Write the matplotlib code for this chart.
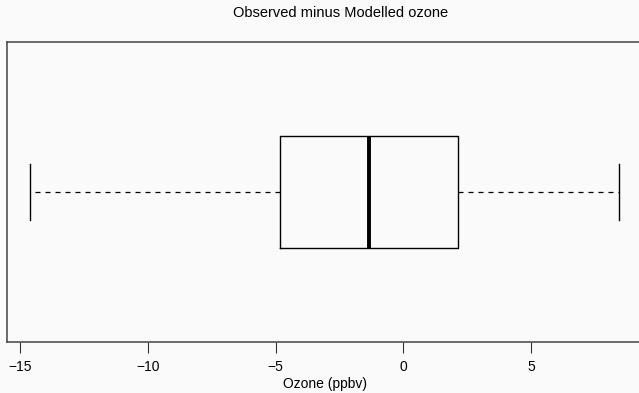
import matplotlib
matplotlib.use("Agg")
import matplotlib.pyplot as plt

# five-number summary of observed minus modelled ozone (ppbv)
whisker_lo = -14.62
q1 = -4.82
median = -1.33
q3 = 2.16
whisker_hi = 8.47
xticks = [-15, -10, -5, 0, 5]

plt.rcParams['font.family'] = ['Liberation Sans', 'DejaVu Sans']

fig = plt.figure(figsize=(6.39, 3.93), dpi=100, facecolor="#fafafa")
ax = fig.add_axes([6.5/639, 51/393, 636.5/639, 300/393], facecolor="#fafafa")

stats = [dict(whislo=whisker_lo, q1=q1, med=median, q3=q3, whishi=whisker_hi, fliers=[])]
ax.bxp(stats, positions=[1], widths=0.4, vert=False, showfliers=False,
       boxprops=dict(color="black", linewidth=1.0),
       medianprops=dict(color="black", linewidth=2.8, solid_capstyle="butt"),
       whiskerprops=dict(color="black", linewidth=0.9, linestyle=(0, (4, 4))),
       capprops=dict(color="black", linewidth=1.0),
       capwidths=0.2)

span = whisker_hi - whisker_lo
ax.set_xlim(whisker_lo - 0.04 * span, whisker_hi + 0.04 * span)
ax.set_ylim(0.46, 1.54)
ax.set_yticks([])
ax.set_xticks(xticks)
ax.set_xticklabels(["\u2212" + str(-t) if t < 0 else str(t) for t in xticks])
ax.tick_params(axis="x", length=8, width=0.8, color="#333333", labelsize=10, pad=5)
for s in ax.spines.values():
    s.set_color("#444444")
    s.set_linewidth(1.1)

ax.set_xlabel("Ozone (ppbv)", fontsize=10, labelpad=2)
fig.text(341/639, 1 - 13/393, "Observed minus Modelled ozone", ha="center", va="center", fontsize=10.5)

fig.savefig("out.png", dpi=100, facecolor="#fafafa")
